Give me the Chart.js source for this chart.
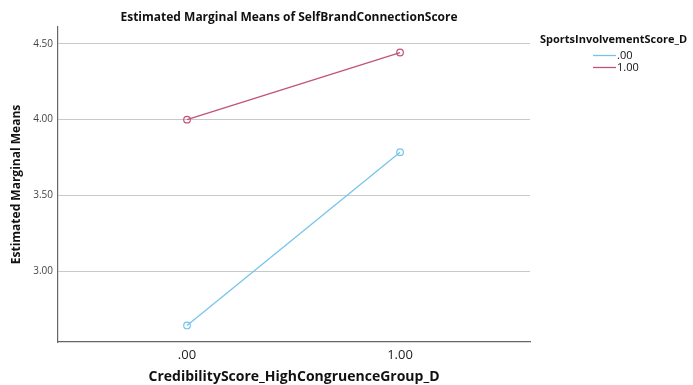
<!DOCTYPE html>
<html>
<head>
<meta charset="utf-8">
<script src="https://cdn.jsdelivr.net/npm/chart.js@4"></script>
<style>
  html,body{margin:0;padding:0;background:#fff;}
  #wrap{width:693px;height:385px;position:relative;}
</style>
</head>
<body>
<div id="wrap"><canvas id="c" width="693" height="385"></canvas></div>
<script>
// ---- data ----
const chartTitle = 'Estimated Marginal Means of SelfBrandConnectionScore';
const xTitle = 'CredibilityScore_HighCongruenceGroup_D';
const yTitle = 'Estimated Marginal Means';
const legendTitle = 'SportsInvolvementScore_D';
const categories = ['.00', '1.00'];
const seriesLabels = ['.00', '1.00'];
const seriesLow = [2.645, 3.786];   // SportsInvolvementScore_D = .00
const seriesHigh = [4.000, 4.442];  // SportsInvolvementScore_D = 1.00
const yTicks = [3.00, 3.50, 4.00, 4.50];

const colors = ['rgb(118,196,236)', 'rgb(192,84,116)'];
const FONT = '"Open Sans", "Liberation Sans", sans-serif';

function toPoints(arr){ return arr.map((v,i)=>({x:i, y:v})); }

const customDraw = {
  id: 'customDraw',
  afterDraw(chart){
    const ctx = chart.ctx;
    ctx.save();
    // chart title
    ctx.fillStyle = '#111';
    ctx.font = 'bold 12px ' + FONT;
    ctx.textAlign = 'center';
    ctx.textBaseline = 'middle';
    ctx.fillText(chartTitle, 289, 17.5);
    // legend
    ctx.font = 'bold 11px ' + FONT;
    ctx.textAlign = 'left';
    ctx.fillText(legendTitle, 540, 39.5);
    ctx.font = '11px ' + FONT;
    chart.data.datasets.forEach((ds, i) => {
      const y = 55.5 + i * 12;
      ctx.strokeStyle = ds.borderColor;
      ctx.lineWidth = 1.3;
      ctx.beginPath();
      ctx.moveTo(593, y);
      ctx.lineTo(616, y);
      ctx.stroke();
      ctx.fillStyle = '#111';
      ctx.fillText(ds.label, 617, y + 0.5);
    });
    ctx.restore();
  }
};

new Chart(document.getElementById('c'), {
  type: 'line',
  data: {
    datasets: [
      { label: seriesLabels[0], data: toPoints(seriesLow), borderColor: colors[0], backgroundColor: '#fff',
        borderWidth: 1.3, pointRadius: 3.3, pointBorderWidth: 1.2, pointBackgroundColor: 'rgba(255,255,255,0)', pointBorderColor: colors[0] },
      { label: seriesLabels[1], data: toPoints(seriesHigh), borderColor: colors[1], backgroundColor: '#fff',
        borderWidth: 1.3, pointRadius: 3.3, pointBorderWidth: 1.2, pointBackgroundColor: 'rgba(255,255,255,0)', pointBorderColor: colors[1] }
    ]
  },
  options: {
    responsive: false,
    animation: false,
    layout: { padding: { top: 27, right: 163, left: 0, bottom: 0 } },
    plugins: {
      legend: { display: false },
      title: { display: false },
      tooltip: { enabled: false }
    },
    scales: {
      x: {
        type: 'linear',
        min: -0.6056,
        max: 1.610,
        afterBuildTicks: s => { s.ticks = categories.map((c,i)=>({value:i})); },
        afterFit: s => { s.height = 43; },
        ticks: {
          callback: (v) => categories[v] !== undefined ? categories[v] : '',
          font: { family: FONT, size: 13 },
          color: '#222',
          padding: 5,
          maxRotation: 0
        },
        grid: { display: false, drawTicks: false },
        border: { display: true, color: '#666', width: 1.2 },
        title: { display: true, text: xTitle, font: { family: FONT, size: 14, weight: 'bold' }, color: '#111', padding: { top: 0, bottom: 0 } }
      },
      y: {
        type: 'linear',
        min: 2.536,
        max: 4.61,
        afterBuildTicks: s => { s.ticks = yTicks.map(v=>({value:v})); },
        afterFit: s => { s.width = 58; },
        ticks: {
          callback: v => v.toFixed(2),
          font: { family: FONT, size: 10 },
          color: '#444',
          padding: 5
        },
        grid: { color: '#c8c8c8', lineWidth: 1, drawTicks: false },
        border: { display: true, color: '#666', width: 1.2 },
        title: { display: true, text: yTitle, font: { family: FONT, size: 12, weight: 'bold' }, color: '#111', padding: { top: 9.5, bottom: 0 } }
      }
    }
  },
  plugins: [customDraw]
});
</script>
</body>
</html>
